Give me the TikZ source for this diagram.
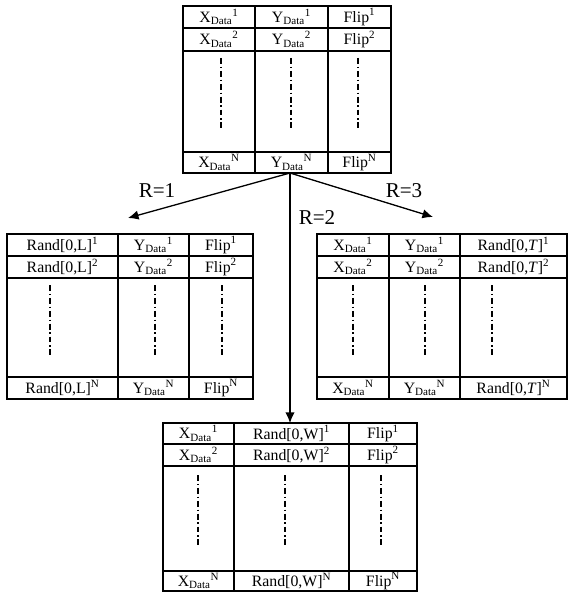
\documentclass[tikz,border=0pt]{standalone}
\usepackage{fontspec}
\setmainfont{Liberation Serif}
\usepackage{tikz}
\usetikzlibrary{arrows.meta}

\newcommand{\xd}[1]{X\textsubscript{Data}\textsuperscript{#1}}
\newcommand{\yd}[1]{Y\textsubscript{Data}\textsuperscript{#1}}

\begin{document}
\begin{tikzpicture}[x=0.03cm, y=-0.03cm, font=\fontsize{13.5}{15}\selectfont,
  cell/.style={inner sep=0pt, anchor=center},
  frame/.style={line width=1.3pt},
  rowline/.style={line width=0.9pt},
  dotline/.style={line width=1.6pt, dash pattern=on 5pt off 2.5pt on 1pt off 2.5pt},
  arr/.style={-{Latex[length=9pt,width=8pt]}, line width=1.1pt},
  lab/.style={font=\fontsize{18}{20}\selectfont, inner sep=0pt}]
\useasboundingbox (0,0) rectangle (568,592);

% top table
\draw[frame] (183,6) rectangle (391,173);
\draw[rowline] (183,28) -- (391,28) (183,51) -- (391,51) (183,152) -- (391,152);
\draw[rowline] (255,6) -- (255,173) (328,6) -- (328,173);
\node[cell] (t11) at (219,17) {\xd{1}};
\node[cell] (t12) at (291.5,17) {\yd{1}};
\node[cell] (t13) at (359.5,17) {Flip\textsuperscript{1}};
\node[cell] (t21) at (219,39.5) {\xd{2}};
\node[cell] (t22) at (291.5,39.5) {\yd{2}};
\node[cell] (t23) at (359.5,39.5) {Flip\textsuperscript{2}};
\node[cell] (tn1) at (219,162.5) {\xd{N}};
\node[cell] (tn2) at (291.5,162.5) {\yd{N}};
\node[cell] (tn3) at (359.5,162.5) {Flip\textsuperscript{N}};
\foreach \x in {221,291,358}
  \draw[dotline] (\x,58) -- (\x,128);

% left table, R=1
\draw[frame] (7,234) rectangle (253,399);
\draw[rowline] (7,256) -- (253,256) (7,278) -- (253,278) (7,377) -- (253,377);
\draw[rowline] (118,234) -- (118,399) (189,234) -- (189,399);
\node[cell] (l11) at (62.5,245) {Rand[0,L]\textsuperscript{1}};
\node[cell] (l12) at (153.5,245) {\yd{1}};
\node[cell] (l13) at (221,245) {Flip\textsuperscript{1}};
\node[cell] (l21) at (62.5,267) {Rand[0,L]\textsuperscript{2}};
\node[cell] (l22) at (153.5,267) {\yd{2}};
\node[cell] (l23) at (221,267) {Flip\textsuperscript{2}};
\node[cell] (ln1) at (62.5,388) {Rand[0,L]\textsuperscript{N}};
\node[cell] (ln2) at (153.5,388) {\yd{N}};
\node[cell] (ln3) at (221,388) {Flip\textsuperscript{N}};
\foreach \x in {50,155,222}
  \draw[dotline] (\x,285) -- (\x,357);

% right table, R=3
\draw[frame] (317,234) rectangle (567,399);
\draw[rowline] (317,256) -- (567,256) (317,278) -- (567,278) (317,377) -- (567,377);
\draw[rowline] (389,234) -- (389,399) (460,234) -- (460,399);
\node[cell] (r11) at (353,245) {\xd{1}};
\node[cell] (r12) at (424.5,245) {\yd{1}};
\node[cell] (r13) at (513.5,245) {Rand[0,\textit{T}]\textsuperscript{1}};
\node[cell] (r21) at (353,267) {\xd{2}};
\node[cell] (r22) at (424.5,267) {\yd{2}};
\node[cell] (r23) at (513.5,267) {Rand[0,\textit{T}]\textsuperscript{2}};
\node[cell] (rn1) at (353,388) {\xd{N}};
\node[cell] (rn2) at (424.5,388) {\yd{N}};
\node[cell] (rn3) at (513.5,388) {Rand[0,\textit{T}]\textsuperscript{N}};
\foreach \x in {353,425,492}
  \draw[dotline] (\x,285) -- (\x,357);

% bottom table, R=2
\draw[frame] (163,423) rectangle (417,591);
\draw[rowline] (163,444) -- (417,444) (163,466) -- (417,466) (163,571) -- (417,571);
\draw[rowline] (234,423) -- (234,591) (349,423) -- (349,591);
\node[cell] (b11) at (198.5,433.5) {\xd{1}};
\node[cell] (b12) at (291.5,433.5) {Rand[0,W]\textsuperscript{1}};
\node[cell] (b13) at (383,433.5) {Flip\textsuperscript{1}};
\node[cell] (b21) at (198.5,455) {\xd{2}};
\node[cell] (b22) at (291.5,455) {Rand[0,W]\textsuperscript{2}};
\node[cell] (b23) at (383,455) {Flip\textsuperscript{2}};
\node[cell] (bn1) at (198.5,581) {\xd{N}};
\node[cell] (bn2) at (291.5,581) {Rand[0,W]\textsuperscript{N}};
\node[cell] (bn3) at (383,581) {Flip\textsuperscript{N}};
\foreach \x in {198,285,381}
  \draw[dotline] (\x,475) -- (\x,546);

% arrows
\coordinate (src) at (290,173);
\coordinate (left) at (128,218);
\coordinate (right) at (433,217);
\coordinate (down) at (290,423);
\draw[arr] (src) -- (left);
\draw[arr] (src) -- (right);
\draw[arr] (src) -- (down);
\node[lab] (r1) at (157,191) {R=1};
\node[lab] (r2) at (317,218) {R=2};
\node[lab] (r3) at (404,191) {R=3};
\end{tikzpicture}
\end{document}
